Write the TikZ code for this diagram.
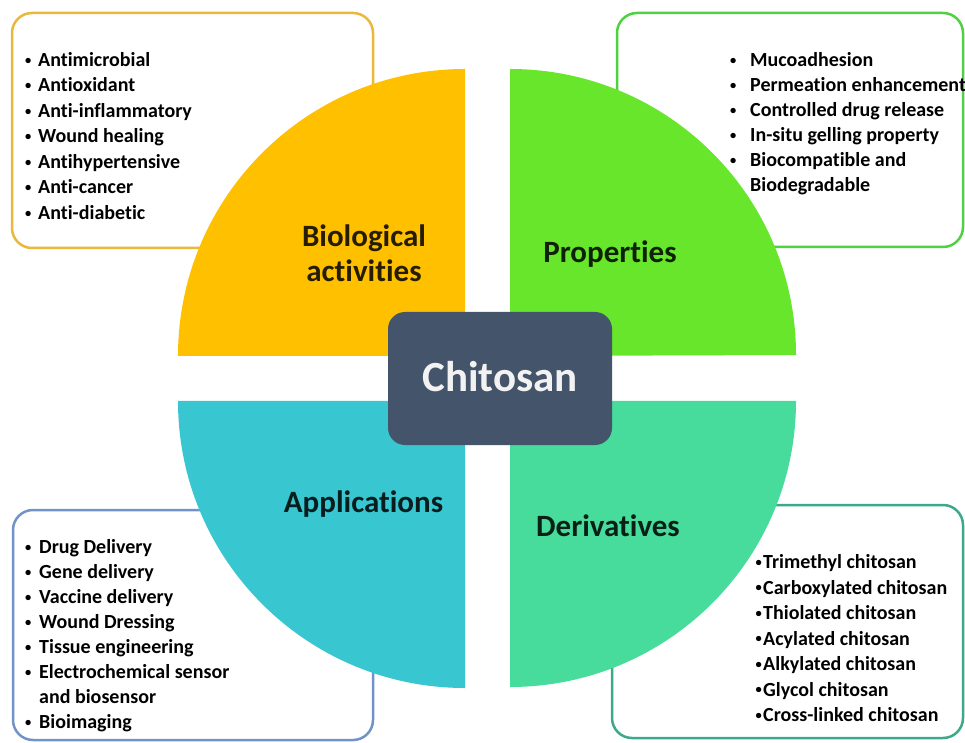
\documentclass[tikz,border=0pt]{standalone}
\usepackage{fontspec}
\setmainfont{Carlito}[Ligatures=NoCommon]
\definecolor{qyellow}{HTML}{FFC000}
\definecolor{qgreen}{HTML}{67E62B}
\definecolor{qteal}{HTML}{38C6D0}
\definecolor{qmint}{HTML}{47DC9B}
\definecolor{byellow}{HTML}{EAB83A}
\definecolor{bgreen}{HTML}{52D044}
\definecolor{bblue}{HTML}{7094C8}
\definecolor{bteal}{HTML}{3CA98B}
\definecolor{slate}{HTML}{44546A}
\newcommand{\bul}[1]{\makebox[#1][c]{\raisebox{2.3pt}{\fontsize{12.5}{12.5}\selectfont\textbullet}}}
\begin{document}
\begin{tikzpicture}[x=1pt,y=1pt,
  listbox/.style={line width=2.5pt, rounded corners=20pt, fill=white},
  listtext/.style={anchor=base west, inner sep=0pt, font=\fontsize{20}{25.5}\selectfont\bfseries, text=black},
  heading/.style={anchor=base, inner sep=0pt, font=\fontsize{31}{35}\selectfont\bfseries, text=black, text opacity=0.85}]
\useasboundingbox (0,0) rectangle (965,742);
% list boxes
\draw[listbox, draw=byellow] (12,494) rectangle (373,729);
\draw[listbox, draw=bgreen] (617,495) rectangle (963,729);
\draw[listbox, draw=bblue] (13,2) rectangle (373,232);
\draw[listbox, draw=bteal] (612,4) rectangle (963,237);
% quadrants
\fill[qyellow] (465,386) -- (178,386) arc[start angle=180,end angle=90,radius=287] -- cycle;
\fill[qgreen] (510,386) -- (510,673) arc[start angle=90,end angle=0,radius=286] -- cycle;
\fill[qteal] (465,341) -- (178,341) arc[start angle=180,end angle=270,radius=287] -- cycle;
\fill[qmint] (510,341) -- (796,341) arc[start angle=0,end angle=-90,radius=286] -- cycle;
% center
\fill[slate, rounded corners=17pt] (388,297) rectangle (612,430);
\node[anchor=base, inner sep=0pt, text=white!95!black, font=\fontsize{43}{50}\selectfont\bfseries] (chitosan) at (500,350) {Chitosan};
% headings
\node[heading] (bio) at (364,495) {\begin{tabular}[t]{@{}c@{}}Biological\\activities\end{tabular}};
\node[heading] (prop) at (610,479) {Properties};
\node[heading] (appl) at (363.5,230) {Applications};
\node[heading] (deriv) at (608,206) {Derivatives};
% lists
\node[listtext] (biolist) at (23,675.5) {\begin{tabular}[t]{@{}l@{\hspace{5pt}}l@{}}
\bul{10pt} & Antimicrobial\\
\bul{10pt} & Antioxidant\\
\bul{10pt} & Anti-inflammatory\\
\bul{10pt} & Wound healing\\
\bul{10pt} & Antihypertensive\\
\bul{10pt} & Anti-cancer\\
\bul{10pt} & Anti-diabetic
\end{tabular}};
\node[listtext, font=\fontsize{20}{25}\selectfont\bfseries] (proplist) at (728,675.5) {\begin{tabular}[t]{@{}l@{\hspace{12pt}}l@{}}
\bul{10pt} & Mucoadhesion\\
\bul{10pt} & Permeation enhancement\\
\bul{10pt} & Controlled drug release\\
\bul{10pt} & In-situ gelling property\\
\bul{10pt} & Biocompatible and\\
 & Biodegradable
\end{tabular}};
\node[listtext, font=\fontsize{20}{25}\selectfont\bfseries] (appllist) at (23,188.5) {\begin{tabular}[t]{@{}l@{\hspace{6pt}}l@{}}
\bul{10pt} & Drug Delivery\\
\bul{10pt} & Gene delivery\\
\bul{10pt} & Vaccine delivery\\
\bul{10pt} & Wound Dressing\\
\bul{10pt} & Tissue engineering\\
\bul{10pt} & Electrochemical sensor\\
 & and biosensor\\
\bul{10pt} & Bioimaging
\end{tabular}};
\node[listtext] (derivlist) at (754,173.5) {\begin{tabular}[t]{@{}l@{}l@{}}
\bul{9pt} & Trimethyl chitosan\\
\bul{9pt} & Carboxylated chitosan\\
\bul{9pt} & Thiolated chitosan\\
\bul{9pt} & Acylated chitosan\\
\bul{9pt} & Alkylated chitosan\\
\bul{9pt} & Glycol chitosan\\
\bul{9pt} & Cross-linked chitosan
\end{tabular}};
\end{tikzpicture}
\end{document}
